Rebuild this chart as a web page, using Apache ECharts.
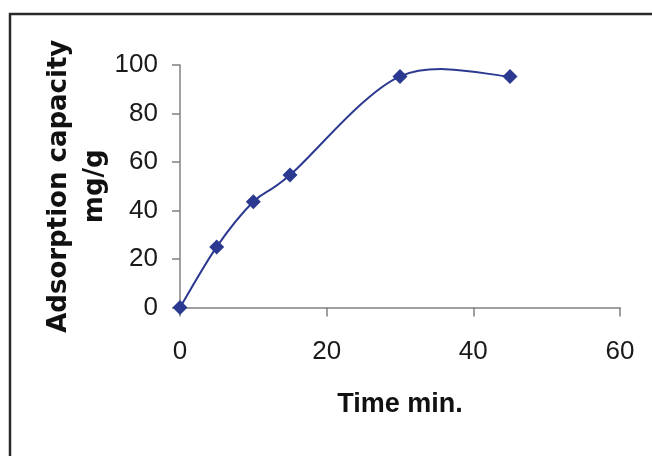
<!DOCTYPE html>
<html>
<head>
<meta charset="utf-8">
<script src="https://cdn.jsdelivr.net/npm/echarts@6/dist/echarts.min.js"></script>
<style>
html,body{margin:0;padding:0;background:#fff;}
#chart{width:652px;height:456px;}
</style>
</head>
<body>
<div id="chart"></div>
<script>
const timeMin = [0, 5, 10, 15, 30, 45];
const capacity = [0, 25, 43.6, 54.6, 95.3, 95.3];
const xTicks = [0, 20, 40, 60];
const yTicks = [0, 20, 40, 60, 80, 100];
const xTitle = 'Time min.';
const yTitle = 'Adsorption capacity\nmg/g';

const points = timeMin.map((t, i) => [t, capacity[i]]);
const lineColor = '#2B3990';

// Smooth (Catmull-Rom style Bezier) line through the data, projected by the axes
function renderSegment(params, api) {
  const i = params.dataIndex;
  const n = points.length;
  if (i >= n - 1) return null;
  const P = k => api.coord(points[Math.max(0, Math.min(n - 1, k))]);
  const p0 = P(i - 1), p1 = P(i), p2 = P(i + 1), p3 = P(i + 2);
  const c1 = [p1[0] + (p2[0] - p0[0]) / 6, p1[1] + (p2[1] - p0[1]) / 6];
  const c2 = [p2[0] - (p3[0] - p1[0]) / 6, p2[1] - (p3[1] - p1[1]) / 6];
  return {
    type: 'bezierCurve',
    shape: { x1: p1[0], y1: p1[1], x2: p2[0], y2: p2[1], cpx1: c1[0], cpy1: c1[1], cpx2: c2[0], cpy2: c2[1] },
    style: { stroke: lineColor, lineWidth: 2, fill: null },
    silent: true
  };
}

const chart = echarts.init(document.getElementById('chart'));
chart.setOption({
  animation: false,
  backgroundColor: '#fff',
  grid: { left: 180, right: 32, top: 65, bottom: 148.5, containLabel: false },
  graphic: [{
    type: 'rect',
    shape: { x: 10, y: 14, width: 700, height: 500 },
    style: { fill: 'none', stroke: '#2a2a2a', lineWidth: 2.5 },
    silent: true
  }],
  xAxis: {
    type: 'value',
    min: xTicks[0], max: xTicks[xTicks.length - 1], interval: xTicks[1] - xTicks[0],
    name: xTitle,
    nameLocation: 'middle',
    nameGap: 84,
    nameMoveOverlap: false,
    nameTextStyle: { fontFamily: 'Liberation Sans', fontWeight: 'bold', fontSize: 27, color: '#111' },
    axisLine: { show: true, lineStyle: { color: '#808080', width: 1.5 } },
    axisTick: { show: true, length: 9, lineStyle: { color: '#808080', width: 1.5 } },
    axisLabel: { margin: 31, fontFamily: 'Liberation Sans', fontSize: 26, color: '#1a1a1a' },
    splitLine: { show: false }
  },
  yAxis: {
    type: 'value',
    min: yTicks[0], max: yTicks[yTicks.length - 1], interval: yTicks[1] - yTicks[0],
    name: yTitle,
    nameLocation: 'middle',
    nameRotate: 90,
    nameGap: 67,
    nameMoveOverlap: false,
    nameTextStyle: { fontFamily: 'DejaVu Sans', fontWeight: 'bold', fontSize: 26, lineHeight: 36, color: '#111', align: 'center' },
    axisLine: { show: true, lineStyle: { color: '#808080', width: 1.5 } },
    axisTick: { show: true, length: 8, lineStyle: { color: '#808080', width: 1.5 } },
    axisLabel: { margin: 22, fontFamily: 'Liberation Sans', fontSize: 26, color: '#1a1a1a' },
    splitLine: { show: false }
  },
  series: [{
    type: 'custom',
    data: points,
    renderItem: renderSegment,
    z: 2
  }, {
    type: 'scatter',
    data: points,
    symbol: 'diamond',
    symbolSize: 15,
    itemStyle: { color: lineColor, opacity: 1 },
    z: 3
  }]
});
</script>
</body>
</html>
